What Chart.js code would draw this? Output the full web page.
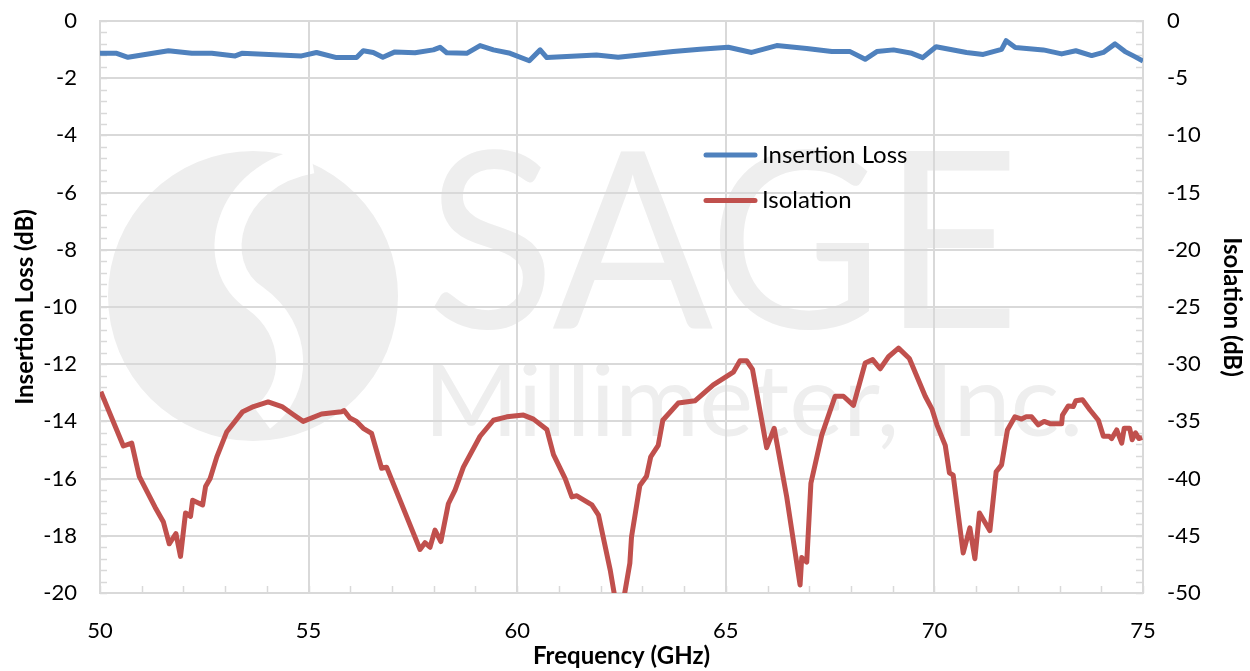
<!DOCTYPE html>
<html>
<head>
<meta charset="utf-8">
<script src="https://cdn.jsdelivr.net/npm/chart.js@4.4.1/dist/chart.umd.min.js"></script>
<style>
html,body{margin:0;padding:0;background:#fff;}
#wrap{width:1250px;height:671px;position:relative;}
</style>
</head>
<body>
<div id="wrap"><canvas id="c" width="1250" height="671"></canvas></div>
<script>
// ---- data (frequency in GHz, values in dB) ----
const ilFreq = [50.00,50.40,50.67,51.64,52.20,52.68,53.24,53.40,54.83,55.19,55.67,56.15,56.31,56.55,56.78,57.07,57.55,57.99,58.15,58.31,58.79,59.11,59.43,59.83,60.29,60.55,60.71,61.90,62.42,62.94,63.74,64.38,65.06,65.62,66.22,66.94,67.54,67.98,68.34,68.62,69.02,69.46,69.72,70.04,70.77,71.17,71.61,71.72,71.94,72.61,73.05,73.39,73.77,74.05,74.33,74.57,74.77,75.00];
const ilVals = [-1.13,-1.13,-1.27,-1.04,-1.13,-1.13,-1.22,-1.13,-1.22,-1.10,-1.28,-1.28,-1.04,-1.10,-1.27,-1.08,-1.11,-1.01,-0.92,-1.11,-1.13,-0.86,-1.01,-1.13,-1.39,-1.01,-1.28,-1.19,-1.27,-1.19,-1.07,-0.99,-0.92,-1.10,-0.86,-0.96,-1.07,-1.07,-1.34,-1.07,-1.01,-1.13,-1.28,-0.90,-1.10,-1.17,-0.99,-0.69,-0.93,-1.01,-1.15,-1.04,-1.21,-1.10,-0.80,-1.07,-1.22,-1.40];

const isoFreq = [50.02,50.56,50.76,50.94,51.32,51.52,51.66,51.82,51.93,52.05,52.17,52.22,52.46,52.53,52.64,52.80,53.04,53.42,53.68,54.03,54.36,54.63,54.87,55.31,55.79,55.85,55.99,56.15,56.31,56.51,56.75,56.87,57.67,57.79,57.91,58.03,58.17,58.35,58.51,58.71,59.11,59.43,59.75,60.15,60.39,60.71,60.87,61.15,61.31,61.43,61.79,61.95,62.23,62.37,62.53,62.70,62.74,62.94,63.10,63.20,63.38,63.49,63.86,64.26,64.70,65.18,65.34,65.50,65.64,65.98,66.16,66.46,66.78,66.82,66.94,67.04,67.30,67.62,67.82,68.06,68.34,68.52,68.70,68.90,69.14,69.40,69.78,69.94,70.06,70.26,70.36,70.45,70.69,70.85,70.97,71.08,71.33,71.48,71.61,71.75,71.93,72.09,72.20,72.33,72.49,72.63,72.77,73.05,73.07,73.21,73.33,73.39,73.55,73.73,73.93,74.05,74.19,74.25,74.37,74.49,74.55,74.68,74.74,74.82,74.90,74.98];
const isoVals = [-32.4,-37.15,-36.9,-39.8,-42.5,-43.8,-45.7,-44.8,-46.8,-43.0,-43.3,-41.9,-42.3,-40.7,-40.0,-38.1,-35.9,-34.15,-33.7,-33.3,-33.7,-34.4,-35.0,-34.35,-34.15,-34.05,-34.7,-35.0,-35.6,-36.05,-39.1,-39.0,-46.2,-45.6,-46.0,-44.5,-45.5,-42.2,-41.0,-39.0,-36.3,-34.9,-34.6,-34.45,-34.8,-35.7,-37.9,-40.0,-41.6,-41.5,-42.3,-43.2,-48.0,-51.0,-51.0,-47.4,-45.1,-40.6,-39.8,-38.1,-37.1,-34.9,-33.4,-33.2,-31.8,-30.7,-29.7,-29.7,-30.45,-37.3,-35.6,-41.6,-49.3,-46.9,-47.3,-40.4,-36.2,-32.8,-32.8,-33.6,-29.9,-29.6,-30.4,-29.35,-28.6,-29.5,-32.8,-33.9,-35.3,-37.1,-39.5,-39.7,-46.5,-44.3,-47.0,-43.0,-44.55,-39.4,-38.8,-35.75,-34.6,-34.8,-34.6,-34.6,-35.3,-35.0,-35.2,-35.2,-34.45,-33.65,-33.7,-33.2,-33.1,-34.0,-34.9,-36.3,-36.3,-36.5,-35.75,-36.9,-35.6,-35.6,-36.6,-36.0,-36.5,-36.4];

const xTicks = [50,55,60,65,70,75];
const leftTicks = [0,-2,-4,-6,-8,-10,-12,-14,-16,-18,-20];
const rightTicks = [0,-5,-10,-15,-20,-25,-30,-35,-40,-45,-50];
const seriesNames = ['Insertion Loss','Isolation'];
const titles = {x:'Frequency (GHz)', yl:'Insertion Loss (dB)', yr:'Isolation (dB)'};
const watermark = ['SAGE','Millimeter, Inc.'];

const FONT = 'Lato, "Open Sans", sans-serif';
const GRID = '#d9d9d9';

const toPts = (xs, ys) => xs.map((x,i)=>({x:x, y:ys[i]}));

// watermark drawn behind grid
const wmPlugin = {
  id:'wm',
  beforeDraw(chart){
    const ctx = chart.ctx;
    ctx.save();
    ctx.fillStyle = '#eeeeee';
    ctx.beginPath(); ctx.arc(253,296,145,0,Math.PI*2); ctx.fill();
    ctx.strokeStyle = '#ffffff'; ctx.lineWidth = 27; ctx.lineCap='butt';
    ctx.beginPath();
    ctx.moveTo(312,160);
    ctx.bezierCurveTo(225,175,205,265,255,298);
    ctx.bezierCurveTo(300,330,300,390,262,418);
    ctx.stroke();
    const fit = (txt, font, left, right, base) => {
      ctx.font = font;
      ctx.textAlign = 'left'; ctx.textBaseline = 'alphabetic';
      const m = ctx.measureText(txt);
      const ink = m.actualBoundingBoxLeft + m.actualBoundingBoxRight;
      const sx = (right-left)/ink;
      ctx.save();
      ctx.translate(left + m.actualBoundingBoxLeft*sx, base);
      ctx.scale(sx,1);
      ctx.fillText(txt,0,0);
      ctx.restore();
    };
    ctx.fillStyle = '#eeeeee';
    fit(watermark[0], '400 246px ' + FONT, 434, 1010, 328);
    fit(watermark[1], '400 98px ' + FONT, 432, 1078, 436);
    ctx.restore();
  }
};

// minor tick marks inside the plot + legend inside the plot
const decoPlugin = {
  id:'deco',
  beforeDatasetsDraw(chart){
    const ctx = chart.ctx, a = chart.chartArea;
    const sx = chart.scales.x, yl = chart.scales.yl, yr = chart.scales.yr;
    ctx.save();
    ctx.strokeStyle = GRID; ctx.lineWidth = 1.5;
    ctx.beginPath();
    for (let v = 0; v >= -20; v -= 0.4) { const y = Math.round(yl.getPixelForValue(v))+0.5; ctx.moveTo(a.left, y); ctx.lineTo(a.left+7, y); }
    for (let v = 0; v >= -50; v -= 1) { const y = Math.round(yr.getPixelForValue(v))+0.5; ctx.moveTo(a.right-7, y); ctx.lineTo(a.right, y); }
    for (let f = 50; f <= 75; f += 1) { const x = Math.round(sx.getPixelForValue(f))+0.5; ctx.moveTo(x, a.bottom); ctx.lineTo(x, a.bottom-7); }
    ctx.stroke();
    ctx.restore();
  },
  afterDraw(chart){
    const ctx = chart.ctx;
    ctx.save();
    ctx.font = '24px ' + FONT;
    ctx.textBaseline = 'middle'; ctx.textAlign = 'left';
    chart.data.datasets.forEach((ds,i)=>{
      const y = 155 + i*45.5;
      ctx.strokeStyle = ds.borderColor; ctx.lineWidth = 5; ctx.lineCap = 'round';
      ctx.beginPath(); ctx.moveTo(706,y); ctx.lineTo(755,y); ctx.stroke();
      ctx.fillStyle = '#000';
      ctx.fillText(ds.label, 762, y);
    });
    ctx.restore();
  }
};

const fitY = w => s => { s.width = w; s.paddingTop = 0; s.paddingBottom = 0; };

new Chart(document.getElementById('c'), {
  type:'line',
  data:{
    datasets:[
      {label:seriesNames[0], data:toPts(ilFreq, ilVals), yAxisID:'yl', borderColor:'#4f81bd', borderWidth:5, pointRadius:0, tension:0, borderJoinStyle:'round'},
      {label:seriesNames[1], data:toPts(isoFreq, isoVals), yAxisID:'yr', borderColor:'#c0504d', borderWidth:5, pointRadius:0, tension:0, borderJoinStyle:'round'}
    ]
  },
  options:{
    responsive:false, animation:false,
    layout:{padding:{top:21,left:0,right:0,bottom:0}},
    plugins:{legend:{display:false}, tooltip:{enabled:false}},
    scales:{
      x:{type:'linear', min:50, max:75,
        afterFit:s=>{s.height=78;},
        afterBuildTicks:s=>{s.ticks = xTicks.map(v=>({value:v}));},
        ticks:{font:{family:FONT,size:22}, color:'#000', padding:25, maxRotation:0},
        grid:{color:GRID, lineWidth:2, drawTicks:false},
        border:{color:GRID, width:2},
        title:{display:true, text:titles.x, font:{family:FONT,size:24,weight:'bold'}, color:'#000', padding:{top:0,bottom:0}}
      },
      yl:{type:'linear', position:'left', min:-20, max:0,
        afterFit:fitY(100),
        afterBuildTicks:s=>{s.ticks = leftTicks.map(v=>({value:v}));},
        ticks:{font:{family:FONT,size:22}, color:'#000', padding:23},
        grid:{color:GRID, lineWidth:2, drawTicks:false},
        border:{color:GRID, width:2},
        title:{display:true, text:titles.yl, font:{family:FONT,size:24,weight:'bold'}, color:'#000', padding:{top:11,bottom:0}}
      },
      yr:{type:'linear', position:'right', min:-50, max:0,
        afterFit:fitY(107),
        afterBuildTicks:s=>{s.ticks = rightTicks.map(v=>({value:v}));},
        ticks:{font:{family:FONT,size:22}, color:'#000', padding:24},
        grid:{drawOnChartArea:false, drawTicks:false},
        border:{color:GRID, width:2},
        title:{display:true, text:titles.yr, font:{family:FONT,size:24,weight:'bold'}, color:'#000', padding:{top:4,bottom:0}}
      }
    }
  },
  plugins:[wmPlugin, decoPlugin]
});
</script>
</body>
</html>
